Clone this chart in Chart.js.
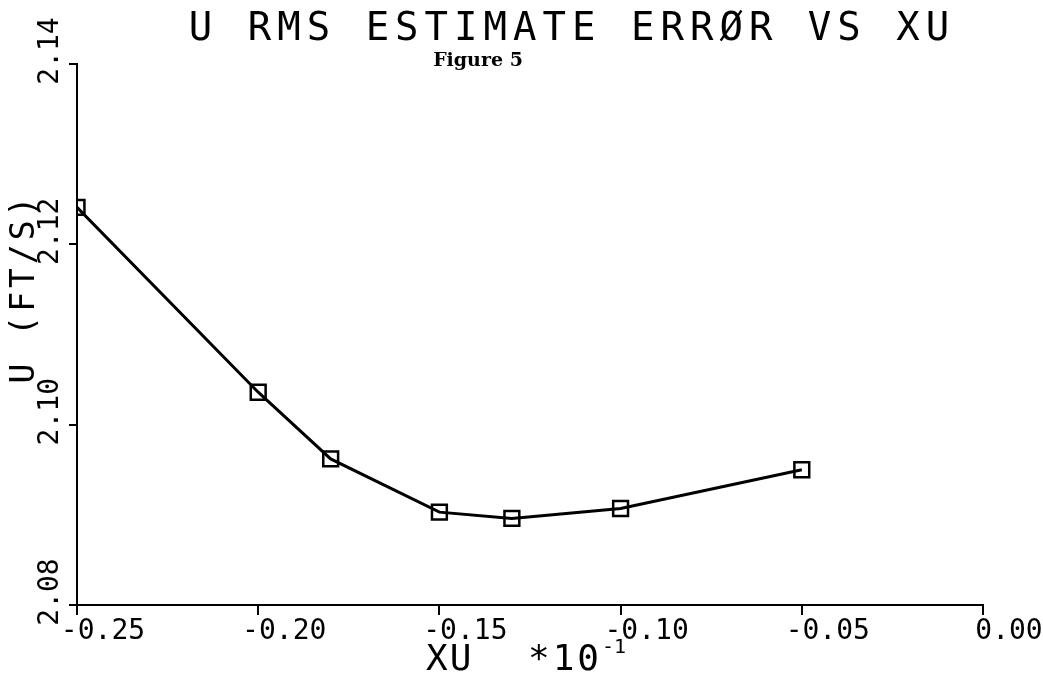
<!DOCTYPE html>
<html>
<head>
<meta charset="utf-8">
<script src="https://cdn.jsdelivr.net/npm/chart.js@4.4.1/dist/chart.umd.min.js"></script>
<style>
  body { margin: 0; background: #fff; }
  #container { width: 1043px; height: 679px; }
</style>
</head>
<body>
<div id="container"><canvas id="chart"></canvas></div>
<script>
// values
var xValues = [-0.25, -0.20, -0.18, -0.15, -0.13, -0.10, -0.05];
var yValues = [2.1241, 2.1036, 2.0962, 2.0903, 2.0896, 2.0907, 2.0950];

var xTicks = [-0.25, -0.20, -0.15, -0.10, -0.05, 0.00];
var yTicks = [2.08, 2.10, 2.12, 2.14];

var titleText = 'U RMS ESTIMATE ERRØR VS XU';
var subTitleText = 'Figure 5';
var xTitleText = 'XU';
var xScaleText = '*10';
var xScaleExp = '-1';
var yTitleText = 'U (FT/S)';

var plotFont = 'DejaVu Sans Mono';
var ink = '#000';

var points = [];
for (var i = 0; i < xValues.length; i++) {
    points.push({x: xValues[i], y: yValues[i]});
}

//draws the plotter style title and axis titles around the chart area:
var plotterText = {
    id: 'plotterText',
    afterDraw: function(chart) {
        var ctx = chart.ctx;
        ctx.save();
        ctx.fillStyle = ink;
        ctx.textBaseline = 'middle';
        ctx.textAlign = 'center';

        ctx.letterSpacing = '6px';
        ctx.font = '39px "' + plotFont + '"';
        ctx.fillText(titleText, 572, 30);

        ctx.letterSpacing = '0px';
        ctx.font = 'bold 19px "DejaVu Serif"';
        ctx.fillText(subTitleText, 478, 61);

        //x axis title with exponent:
        ctx.letterSpacing = '2px';
        ctx.font = '36px "' + plotFont + '"';
        ctx.textAlign = 'left';
        ctx.fillText(xTitleText, 426, 661);
        ctx.letterSpacing = '3px';
        ctx.fillText(xScaleText, 528, 661);
        ctx.letterSpacing = '0px';
        ctx.font = '20px "' + plotFont + '"';
        ctx.fillText(xScaleExp, 602, 648);

        //y axis title, rotated:
        ctx.translate(25, 288);
        ctx.rotate(-Math.PI / 2);
        ctx.textAlign = 'center';
        ctx.letterSpacing = '4px';
        ctx.font = '33px "' + plotFont + '"';
        ctx.fillText(yTitleText, 0, 0);
        ctx.restore();
    }
};

var chart = new Chart(document.getElementById('chart'), {
    type: 'line',
    data: {
        datasets: [{
            data: points,
            borderColor: ink,
            borderWidth: 3,
            tension: 0,
            fill: false,
            pointStyle: 'rect',
            pointRadius: 10.5,
            pointBorderWidth: 2.5,
            pointBorderColor: ink,
            pointBackgroundColor: 'rgba(0,0,0,0)'
        }]
    },
    options: {
        responsive: true,
        maintainAspectRatio: false,
        animation: false,
        layout: {
            padding: {left: 0, top: 64, right: 60, bottom: 0}
        },
        plugins: {
            legend: {display: false},
            tooltip: {enabled: false}
        },
        scales: {
            x: {
                type: 'linear',
                min: xTicks[0],
                max: xTicks[xTicks.length - 1],
                afterBuildTicks: function(scale) {
                    scale.ticks = xTicks.map(function(v) { return {value: v}; });
                },
                afterFit: function(scale) { scale.height = 74; },
                border: {display: true, color: ink, width: 2},
                grid: {display: true, drawOnChartArea: false, drawTicks: true, tickLength: 10, color: ink, lineWidth: 2},
                ticks: {
                    color: ink,
                    font: {family: plotFont, size: 28},
                    padding: 0,
                    labelOffset: 26,
                    maxRotation: 0,
                    callback: function(v) { return v.toFixed(2); }
                }
            },
            y: {
                type: 'linear',
                min: yTicks[0],
                max: yTicks[yTicks.length - 1],
                afterBuildTicks: function(scale) {
                    scale.ticks = yTicks.map(function(v) { return {value: v}; });
                },
                afterFit: function(scale) { scale.width = 77; },
                border: {display: true, color: ink, width: 2},
                grid: {display: true, drawOnChartArea: false, drawTicks: true, tickLength: 8, color: ink, lineWidth: 2},
                ticks: {
                    color: ink,
                    font: {family: plotFont, size: 28},
                    minRotation: 90,
                    maxRotation: 90,
                    crossAlign: 'center',
                    padding: -15,
                    labelOffset: -13,
                    callback: function(v) { return v.toFixed(2); }
                }
            }
        }
    },
    plugins: [plotterText]
});
</script>
</body>
</html>
